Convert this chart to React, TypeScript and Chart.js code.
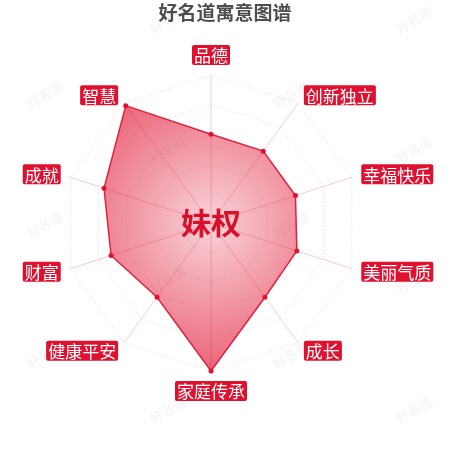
import React, { useEffect, useRef } from 'react';
import { Chart, registerables } from 'chart.js';

Chart.register(...registerables);

const TITLE = '好名道寓意图谱';
const NAME = '妹权';
const WATERMARK = '好名道';
const indicators = ['品德', '创新独立', '幸福快乐', '美丽气质', '成长', '家庭传承', '健康平安', '财富', '成就', '智慧'];
const scores = [60, 60, 60, 61, 62, 100, 62, 71, 76, 98];
const maxScore = 100;
const stepScore = 20;

const FONT = '"Noto Sans CJK SC", "Noto Sans", sans-serif';
const RED = '#e0102f';

export default function App() {
  const ref = useRef<HTMLCanvasElement>(null);

  useEffect(() => {
    const canvas = ref.current;
    if (!canvas) return;

    const decor = {
      id: 'decor',
      beforeDraw(chart: any) {
        const ctx = chart.ctx;
        ctx.save();
        ctx.fillStyle = 'rgba(0,0,0,0.04)';
        ctx.font = `bold 13px ${FONT}`;
        ctx.textAlign = 'center';
        ctx.textBaseline = 'middle';
        for (let c = 0; c < 4; c++) {
          const x = 45 + 123 * c;
          const base = c % 2 === 0 ? 95 : 20;
          for (let y = base; y < 470; y += 130) {
            ctx.save();
            ctx.translate(x, y);
            ctx.rotate(-Math.PI / 6);
            ctx.fillText(WATERMARK, 0, 0);
            ctx.restore();
          }
        }
        ctx.fillStyle = '#4d4d4d';
        ctx.font = `bold 19px ${FONT}`;
        ctx.fillText(TITLE, 225, 13);
        ctx.restore();
      },
      afterDatasetsDraw(chart: any) {
        const scale = chart.scales.r;
        const ctx = chart.ctx;
        ctx.save();
        ctx.font = `17px ${FONT}`;
        ctx.textBaseline = 'middle';
        ctx.textAlign = 'left';
        for (let i = 0; i < indicators.length; i++) {
          const p = scale.getPointPosition(i, scale.drawingArea + 10);
          const a = scale.getIndexAngle(i);
          const sn = Math.sin(a);
          const cs = Math.cos(a);
          const tw = ctx.measureText(indicators[i]).width;
          const bw = tw + 4;
          const bh = 20;
          let bx: number;
          let by: number;
          if (Math.abs(sn) < 0.01) bx = p.x - bw / 2;
          else if (sn > 0) bx = p.x;
          else bx = p.x - bw;
          if (Math.abs(sn) < 0.01) by = cs > 0 ? p.y - bh : p.y;
          else by = p.y - bh / 2;
          ctx.fillStyle = RED;
          ctx.beginPath();
          ctx.roundRect(bx, by, bw, bh, 2);
          ctx.fill();
          ctx.fillStyle = '#ffffff';
          ctx.fillText(indicators[i], bx + 2, by + bh / 2 + 1);
        }
        ctx.font = `bold 30px ${FONT}`;
        ctx.fillStyle = '#d8102c';
        ctx.textAlign = 'center';
        ctx.fillText(NAME, scale.xCenter, scale.yCenter);
        ctx.restore();
      },
    };

    const chart = new Chart(canvas, {
      type: 'radar',
      data: {
        labels: indicators,
        datasets: [
          {
            data: scores,
            fill: true,
            borderColor: '#e0203c',
            borderWidth: 1.5,
            pointRadius: 2.5,
            pointBorderWidth: 0,
            pointBackgroundColor: RED,
            backgroundColor: (c: any) => {
              const ch = c.chart;
              const s = ch.scales && ch.scales.r;
              if (!s || !ch.chartArea) return 'rgba(224,16,47,0.4)';
              const g = ch.ctx.createRadialGradient(s.xCenter, s.yCenter, 0, s.xCenter, s.yCenter, s.drawingArea);
              g.addColorStop(0, 'rgba(224,16,47,0.18)');
              g.addColorStop(1, 'rgba(224,16,47,0.65)');
              return g;
            },
          },
        ],
      },
      options: {
        animation: false,
        responsive: true,
        maintainAspectRatio: false,
        layout: { padding: { left: 63, right: 91, top: 75, bottom: 79 } },
        plugins: {
          legend: { display: false },
          tooltip: { enabled: false },
          title: { display: false },
        },
        scales: {
          r: {
            min: 0,
            max: maxScore,
            ticks: { display: false, stepSize: stepScore },
            pointLabels: { display: false },
            grid: { color: '#dcdcdc', lineWidth: 1 },
            border: { dash: [1, 2] },
            angleLines: { color: 'rgba(224,16,47,0.22)', lineWidth: 1 },
          },
        },
      },
      plugins: [decor],
    });

    return () => chart.destroy();
  }, []);

  return (
    <div style={{ position: 'fixed', left: 0, top: 0, width: 450, height: 450, background: '#fff' }}>
      <canvas ref={ref} />
    </div>
  );
}
